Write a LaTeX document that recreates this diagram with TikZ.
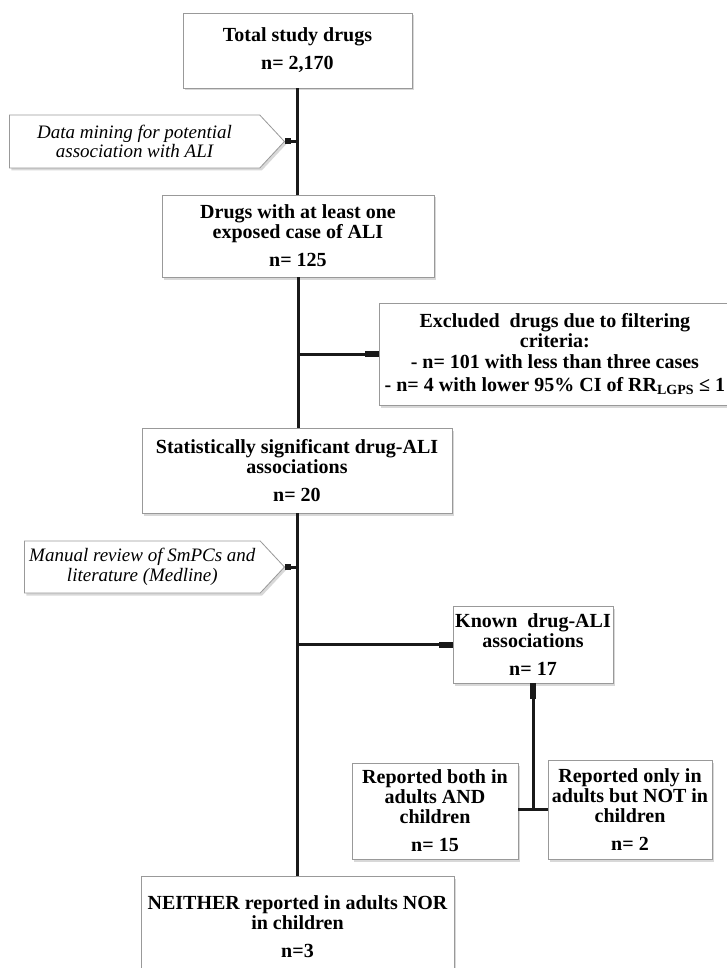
\documentclass[tikz,border=0pt]{standalone}
\usepackage{fontspec}
\setmainfont{Liberation Serif}
\usetikzlibrary{shapes.symbols,shadows}
\begin{document}
\begin{tikzpicture}[x=1pt,y=-1pt]
    \tikzset{
        box/.style={draw=black!40, line width=0.8pt, fill=white, align=center, inner sep=0pt,
            font=\fontsize{20}{20}\selectfont\bfseries,
            drop shadow={shadow xshift=2pt, shadow yshift=-2.5pt, fill=black!30}},
        step note/.style={shape=signal, signal to=east, signal pointer angle=94,
            draw=black!40, line width=0.8pt, fill=white, align=center, inner sep=0pt,
            font=\fontsize{19}{19.5}\selectfont\itshape,
            drop shadow={shadow xshift=2pt, shadow yshift=-2.5pt, fill=black!30}},
        trunk/.style={line width=3pt, black!90},
        stub/.style={line width=6pt, black!90}
    }
    \useasboundingbox (0,0) rectangle (727,968);

    \draw node[box, minimum width=229, minimum height=75] (total) at (297.5,50.5)
        {Total study drugs\\[8pt] n= 2,170};
    \draw node[step note, minimum width=275, minimum height=53, anchor=east] (mining) at (285,141.5)
        {Data mining for potential\\ association with ALI};
    \draw node[box, minimum width=272, minimum height=82] (atleast) at (298,236)
        {Drugs with at least one\\ exposed case of ALI\\[8pt] n= 125};
    \draw node[box, minimum width=351, minimum height=102, anchor=west] (excluded) at (379,354)
        {Excluded\ \ drugs due to filtering\\ criteria:\\[1pt]
         - n= 101 with less than three cases\\[3pt]
         - n= 4 with lower 95\% CI of RR\textsubscript{LGPS} ≤ 1\hspace{4pt}};
    \draw node[box, minimum width=310, minimum height=85] (signif) at (297,470.5)
        {Statistically significant drug-ALI\\ associations\\[8pt] n= 20};
    \draw node[step note, minimum width=260, minimum height=52, anchor=east] (review) at (285,567)
        {Manual review of SmPCs and\\ literature (Medline)};
    \draw node[box, minimum width=160, minimum height=77] (known) at (533,644.5)
        {Known\ \ drug-ALI\\ associations\\[8pt] n= 17};
    \draw node[box, minimum width=166, minimum height=96] (both) at (435,811)
        {Reported both in\\ adults AND\\ children\\[8pt] n= 15};
    \draw node[box, minimum width=164, minimum height=99] (only) at (630,809.5)
        {Reported only in\\ adults but NOT in\\ children\\[8pt] n= 2};
    \draw node[box, minimum width=313, minimum height=100, anchor=north] (neither) at (297.5,876)
        {NEITHER reported in adults NOR\\ in children\\[8pt] n=3};

    % main line
    \foreach \x/\y in {%
        total/atleast, atleast/signif, signif/neither%
    }{
        \draw[trunk] (\x.south) -- (\x.south |- \y.north);
    }
    % side branches
    \foreach \x in {excluded, known}{
        \draw[trunk] (\x.west) -- (\x.west -| total.south);
        \draw[stub] (\x.west) -- ++(-14,0);
    }
    \foreach \x in {mining, review}{
        \draw[trunk] (\x.east) -- (\x.east -| total.south);
        \draw[stub] (\x.east) -- ++(6,0);
    }
    \draw[trunk] (known.south) -- (known.south |- only.west);
    \draw[stub] (known.south) -- ++(0,16);
    \draw[trunk] (only.west -| both.east) -- (only.west);
\end{tikzpicture}
\end{document}
